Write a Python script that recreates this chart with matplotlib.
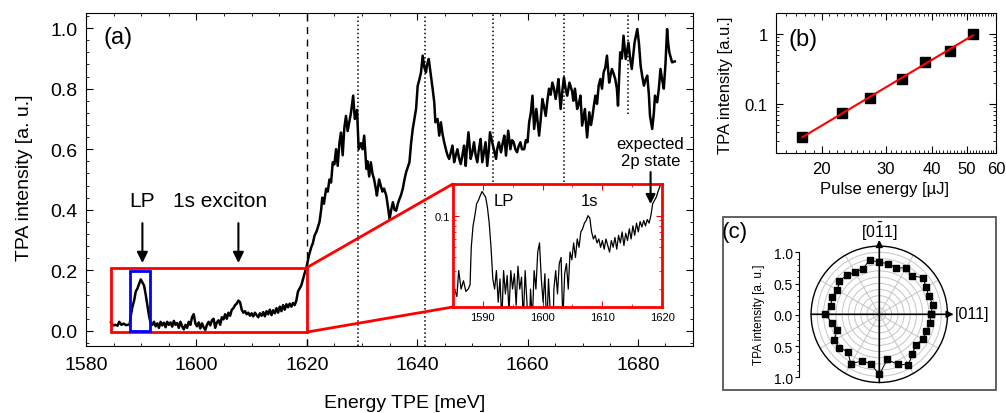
import numpy as np
import matplotlib.pyplot as plt
from matplotlib.patches import Rectangle, ConnectionPatch
from matplotlib.ticker import MultipleLocator, AutoMinorLocator, FixedLocator, NullFormatter, LogLocator

plt.rcParams['font.family'] = ['Liberation Sans', 'DejaVu Sans']
plt.rcParams['mathtext.fontset'] = 'custom'
plt.rcParams['mathtext.rm'] = 'Liberation Sans'
plt.rcParams['mathtext.it'] = 'Liberation Sans:italic'

# ---- (a) TPA spectrum ----
energy_lo = [1584.5, 1584.9, 1585.3, 1585.7, 1586.0, 1586.4, 1586.8, 1587.2, 1587.6, 1587.9,
             1588.1, 1588.4, 1588.7, 1589.0, 1589.3, 1589.6, 1589.9, 1590.2, 1590.5, 1590.8,
             1591.1, 1591.4, 1591.7, 1592.0, 1592.3, 1592.6, 1592.9, 1593.2, 1593.5, 1593.8,
             1594.1, 1594.4, 1594.7, 1595.0, 1595.3, 1595.6, 1595.9, 1596.2, 1596.5, 1596.8,
             1597.1, 1597.4, 1597.7, 1598.0, 1598.3, 1598.6, 1598.9, 1599.2, 1599.5, 1599.8,
             1600.1, 1600.4, 1600.7, 1601.0, 1601.3, 1601.6, 1601.9, 1602.2, 1602.5, 1602.8,
             1603.1, 1603.4, 1603.7, 1604.0, 1604.3, 1604.6, 1604.9, 1605.2, 1605.5, 1605.8,
             1606.1, 1606.4, 1606.7, 1607.0, 1607.3, 1607.6, 1607.9, 1608.2, 1608.5, 1608.8,
             1609.1, 1609.4, 1609.7, 1610.0, 1610.3, 1610.6, 1610.9, 1611.2, 1611.5, 1611.8,
             1612.1, 1612.4, 1612.7, 1613.0, 1613.3, 1613.6, 1613.9, 1614.2, 1614.5, 1614.8,
             1615.1, 1615.4, 1615.7, 1616.0, 1616.3, 1616.6, 1616.9, 1617.2, 1617.5, 1617.8,
             1618.1, 1618.4, 1618.7, 1619.0, 1619.3, 1619.6, 1620.0]
tpa_lo = [0.028, 0.018, 0.020, 0.017, 0.030, 0.020, 0.024, 0.019, 0.020, 0.022,
          0.050, 0.080, 0.100, 0.130, 0.140, 0.155, 0.170, 0.160, 0.150, 0.120,
          0.085, 0.050, 0.025, 0.020, 0.030, 0.015, 0.025, 0.010, 0.030, 0.018,
          0.027, 0.012, 0.030, 0.020, 0.028, 0.014, 0.033, 0.020, 0.026, 0.010,
          0.030, 0.015, 0.005, 0.020, 0.010, 0.030, 0.020, 0.045, 0.055, 0.025,
          0.015, 0.028, 0.008, 0.025, 0.012, 0.003, 0.020, 0.030, 0.018, 0.035,
          0.040, 0.010, 0.028, 0.035, 0.020, 0.045, 0.038, 0.055, 0.040, 0.060,
          0.050, 0.070, 0.075, 0.085, 0.090, 0.100, 0.095, 0.070, 0.060, 0.065,
          0.055, 0.060, 0.050, 0.058, 0.048, 0.060, 0.052, 0.045, 0.058, 0.050,
          0.062, 0.048, 0.065, 0.055, 0.070, 0.052, 0.068, 0.058, 0.075, 0.060,
          0.080, 0.065, 0.085, 0.070, 0.088, 0.078, 0.090, 0.080, 0.092, 0.085,
          0.100, 0.130, 0.140, 0.150, 0.170, 0.190, 0.215]

energy_hi = [1620.4, 1620.8, 1621.1, 1621.4, 1621.8, 1622.3, 1622.6, 1622.8, 1623.1, 1623.5,
             1623.8, 1624.1, 1624.4, 1624.7, 1625.0, 1625.3, 1625.6, 1625.9, 1626.2, 1626.5,
             1626.8, 1627.1, 1627.4, 1627.7, 1628.0, 1628.4, 1628.7, 1629.1, 1629.4, 1629.8,
             1630.1, 1630.4, 1630.8, 1631.0, 1631.3, 1631.6, 1631.9, 1632.2, 1632.5, 1632.7,
             1633.1, 1633.4, 1633.7, 1634.0, 1634.4, 1634.7, 1635.0, 1635.3, 1635.6, 1635.9,
             1636.2, 1636.5, 1636.8, 1637.1, 1637.4, 1637.7, 1638.0, 1638.3, 1638.6, 1638.9,
             1639.2, 1639.5, 1639.8, 1640.1, 1640.4, 1640.7, 1641.0, 1641.3, 1641.6, 1641.8,
             1642.1, 1642.5, 1642.8, 1643.1, 1643.3, 1643.7, 1644.0, 1644.3, 1644.6, 1644.9,
             1645.2, 1645.5, 1645.8, 1646.1, 1646.4, 1646.7, 1647.0, 1647.3, 1647.6, 1647.9,
             1648.2, 1648.5, 1648.8, 1649.0, 1649.3, 1649.7, 1650.0, 1650.3, 1650.6, 1650.9,
             1651.2, 1651.5, 1651.8, 1652.1, 1652.4, 1652.7, 1653.0, 1653.2, 1653.6, 1653.9,
             1654.3, 1654.5, 1654.8, 1655.2, 1655.5, 1655.8, 1656.1, 1656.5, 1656.9, 1657.2,
             1657.5, 1657.8, 1658.1, 1658.4, 1658.7, 1659.0, 1659.4, 1659.7, 1660.0, 1660.3,
             1660.6, 1660.9, 1661.2, 1661.6, 1662.1, 1662.4, 1662.7, 1663.0, 1663.3, 1663.6,
             1663.9, 1664.2, 1664.5, 1664.8, 1665.1, 1665.4, 1665.6, 1666.0, 1666.3, 1666.6,
             1666.9, 1667.2, 1667.6, 1668.1, 1668.3, 1668.6, 1669.0, 1669.3, 1669.6, 1669.9,
             1670.1, 1670.4, 1670.8, 1671.2, 1671.5, 1671.7, 1672.0, 1672.3, 1672.6, 1672.9,
             1673.2, 1673.5, 1673.8, 1674.1, 1674.4, 1674.8, 1675.0, 1675.3, 1675.6, 1675.9,
             1676.2, 1676.4, 1676.8, 1677.1, 1677.4, 1677.8, 1678.0, 1678.3, 1678.6, 1678.9,
             1679.1, 1679.4, 1679.9, 1680.2, 1680.5, 1680.8, 1681.1, 1681.4, 1681.7, 1682.0,
             1682.2, 1682.6, 1682.9, 1683.1, 1683.5, 1683.8, 1684.1, 1684.4, 1684.7, 1685.0,
             1685.3, 1685.5, 1685.7, 1686.0, 1686.2, 1686.7]
tpa_hi = [0.250, 0.276, 0.290, 0.315, 0.330, 0.360, 0.400, 0.440, 0.420, 0.470,
          0.460, 0.500, 0.490, 0.557, 0.550, 0.600, 0.545, 0.620, 0.655, 0.580,
          0.670, 0.710, 0.660, 0.690, 0.720, 0.777, 0.700, 0.730, 0.600, 0.620,
          0.600, 0.645, 0.535, 0.560, 0.510, 0.557, 0.520, 0.500, 0.470, 0.447,
          0.500, 0.480, 0.460, 0.470, 0.447, 0.410, 0.370, 0.400, 0.425, 0.400,
          0.397, 0.420, 0.436, 0.450, 0.470, 0.500, 0.524, 0.540, 0.557, 0.620,
          0.667, 0.700, 0.733, 0.810, 0.830, 0.854, 0.909, 0.870, 0.854, 0.880,
          0.898, 0.843, 0.800, 0.755, 0.689, 0.700, 0.645, 0.689, 0.650, 0.623,
          0.600, 0.580, 0.568, 0.590, 0.612, 0.557, 0.580, 0.600, 0.570, 0.551,
          0.580, 0.612, 0.545, 0.600, 0.656, 0.568, 0.590, 0.623, 0.580, 0.557,
          0.600, 0.634, 0.557, 0.590, 0.623, 0.545, 0.600, 0.656, 0.623, 0.600,
          0.568, 0.600, 0.623, 0.590, 0.620, 0.645, 0.579, 0.661, 0.600, 0.630,
          0.623, 0.600, 0.590, 0.610, 0.623, 0.600, 0.600, 0.630, 0.623, 0.689,
          0.720, 0.777, 0.667, 0.733, 0.645, 0.700, 0.766, 0.740, 0.710, 0.760,
          0.800, 0.780, 0.820, 0.800, 0.766, 0.800, 0.832, 0.733, 0.790, 0.837,
          0.800, 0.777, 0.820, 0.790, 0.760, 0.800, 0.733, 0.750, 0.777, 0.678,
          0.700, 0.733, 0.639, 0.722, 0.680, 0.700, 0.740, 0.777, 0.750, 0.810,
          0.832, 0.800, 0.854, 0.870, 0.909, 0.820, 0.840, 0.865, 0.850, 0.832,
          0.800, 0.744, 0.920, 0.900, 0.975, 0.898, 0.920, 0.952, 0.900, 0.865,
          0.900, 0.952, 0.997, 0.950, 0.876, 0.840, 0.810, 0.830, 0.843, 0.780,
          0.710, 0.667, 0.720, 0.777, 0.755, 0.800, 0.865, 0.830, 0.800, 0.880,
          0.997, 0.950, 0.920, 0.900, 0.887, 0.890]

energy = np.array(energy_lo + energy_hi)
tpa = np.array(tpa_lo + tpa_hi)

dashed_line = 1620.0
dotted_full = [1629.3, 1641.5]
dotted_upper = [1653.8, 1666.6]
dotted_short = 1678.2

# ---- (b) power dependence ----
pulse_energy = [17.7, 22.7, 27.1, 33.1, 38.3, 44.8, 51.9]
tpa_power = [0.034, 0.074, 0.123, 0.231, 0.40, 0.567, 1.0]

# ---- (c) polarisation dependence, 10 deg steps ----
angle_deg = np.arange(0, 360, 10)
tpa_polar = [0.83, 0.88, 0.85, 0.87, 0.92, 0.81, 0.86, 0.80, 0.83, 0.84, 0.89, 0.78,
             0.78, 0.82, 0.84, 0.78, 0.81, 0.79, 0.87, 0.78, 0.72, 0.84, 0.84, 0.79,
             0.92, 0.80, 0.81, 0.97, 0.74, 0.86, 0.94, 0.83, 0.77, 0.81, 0.81, 0.83]

W, H = 1006, 414
fig = plt.figure(figsize=(W / 100, H / 100), dpi=100)

# ================= (a) =================
ax = fig.add_axes([0.0856, 0.1618, 0.6033, 0.8044])
ax.plot(energy, tpa, color='k', lw=1.8, zorder=3)
ax.set_xlim(1580, 1690)
ax.set_ylim(-0.05, 1.05)
ax.xaxis.set_major_locator(MultipleLocator(20))
ax.xaxis.set_minor_locator(MultipleLocator(5))
ax.yaxis.set_major_locator(MultipleLocator(0.2))
ax.yaxis.set_minor_locator(AutoMinorLocator(5))
ax.yaxis.set_major_formatter(lambda v, p: f'{v:.1f}')
ax.tick_params(which='both', direction='in', top=True, right=True, labelsize=14)
ax.tick_params(which='major', length=5)
ax.tick_params(which='minor', length=2.5)
ax.tick_params(axis='x', pad=7)
ax.tick_params(axis='y', pad=6)
ax.set_xlabel('Energy TPE [meV]', fontsize=14)
ax.set_ylabel('TPA intensity [a. u.]', fontsize=14)
ax.xaxis.set_label_coords(0.525, -0.145)
ax.yaxis.set_label_coords(-0.0875, 0.507)

ax.axvline(dashed_line, color='k', ls=(0, (5, 4)), lw=1, zorder=1)
for xv in dotted_full:
    ax.axvline(xv, color='k', ls=':', lw=1.1, zorder=1)
for xv in dotted_upper:
    ax.vlines(xv, 0.48, 1.05, color='k', ls=':', lw=1.1, zorder=1)
ax.vlines(dotted_short, 0.716, 1.05, color='k', ls=':', lw=1.1, zorder=1)

ax.add_patch(Rectangle((1584.6, -0.004), 1620 - 1584.6, 0.213, fill=False,
                       ec='red', lw=2, zorder=4))
ax.add_patch(Rectangle((1588.0, 0.0), 3.6, 0.199, fill=False, ec='blue', lw=2, zorder=5))

arrow_kw = dict(arrowstyle='-|>', color='k', lw=1.5, mutation_scale=16)
ax.annotate('', xy=(1590.2, 0.215), xytext=(1590.2, 0.365), arrowprops=arrow_kw)
ax.annotate('', xy=(1607.6, 0.215), xytext=(1607.6, 0.365), arrowprops=arrow_kw)
ax.text(1590.2, 0.43, 'LP', fontsize=15, ha='center', va='center')
ax.text(1604.3, 0.43, '1s exciton', fontsize=15, ha='center', va='center')
ax.text(0.0526, 0.928, '(a)', transform=ax.transAxes, fontsize=17, ha='center', va='center')

# inset
axin = fig.add_axes([0.45, 0.256, 0.2083, 0.297])
axin.plot(energy, tpa, color='k', lw=0.9)
axin.set_yscale('log')
axin.set_xlim(1585, 1620)
axin.set_ylim(0.0135, 0.2)
axin.xaxis.set_major_locator(MultipleLocator(10))
axin.xaxis.set_minor_locator(MultipleLocator(5))
axin.yaxis.set_major_locator(FixedLocator([0.1]))
axin.yaxis.set_major_formatter(lambda v, p: '0.1')
axin.yaxis.set_minor_locator(LogLocator(subs=np.arange(2, 10)))
axin.yaxis.set_minor_formatter(NullFormatter())
for s in axin.spines.values():
    s.set_color('red')
    s.set_linewidth(2)
axin.tick_params(which='both', direction='in', colors='red', labelcolor='black',
                 top=True, right=True, labelsize=8)
axin.tick_params(which='major', length=4)
axin.tick_params(which='minor', length=2.5)
axin.tick_params(axis='y', pad=2)
axin.text(1593.6, 0.141, 'LP', fontsize=12, ha='center', va='center')
axin.text(1607.8, 0.139, '1s', fontsize=12, ha='center', va='center')
axin.annotate('expected\n2p state', xy=(1618.05, 0.129), xytext=(1618.05, 0.285),
              ha='center', va='bottom', fontsize=12, annotation_clip=False,
              arrowprops=dict(arrowstyle='-|>', color='k', lw=1.5, mutation_scale=14,
                              shrinkA=1, shrinkB=0))

for yv, yf in [(0.209, 1), (-0.004, 0)]:
    cp = ConnectionPatch(xyA=(1620, yv), coordsA=ax.transData, xyB=(0, yf),
                         coordsB=axin.transAxes, color='red', lw=2)
    fig.add_artist(cp)

# ================= (b) =================
axb = fig.add_axes([0.7714, 0.628, 0.2187, 0.338])
axb.set_xscale('log')
axb.set_yscale('log')
axb.plot(pulse_energy, tpa_power, 's', color='k', ms=7.5, zorder=3)
fit = np.polyfit(np.log10(pulse_energy), np.log10(tpa_power), 1)
xf = np.array([pulse_energy[0], pulse_energy[-1]])
axb.plot(xf, 10 ** np.polyval(fit, np.log10(xf)), color='red', lw=1.5, zorder=4)
axb.set_xlim(15, 60)
axb.set_ylim(0.02, 2)
axb.xaxis.set_major_locator(FixedLocator([20, 30, 40, 50, 60]))
axb.xaxis.set_major_formatter(lambda v, p: f'{v:.0f}')
axb.xaxis.set_minor_locator(FixedLocator(np.arange(15, 61, 1)))
axb.xaxis.set_minor_formatter(NullFormatter())
axb.yaxis.set_major_locator(FixedLocator([0.1, 1]))
axb.yaxis.set_major_formatter(lambda v, p: '0.1' if v < 0.5 else '1')
axb.yaxis.set_minor_locator(LogLocator(subs=np.arange(2, 10)))
axb.yaxis.set_minor_formatter(NullFormatter())
axb.tick_params(which='both', direction='in', top=True, right=True, labelsize=12)
axb.tick_params(which='major', length=5, pad=6)
axb.tick_params(which='minor', length=2.5)
axb.set_xlabel('Pulse energy [\u00b5J]', fontsize=12)
axb.set_ylabel('TPA intensity [a.u.]', fontsize=12)
axb.xaxis.set_label_coords(0.495, -0.2)
axb.yaxis.set_label_coords(-0.195, 0.493)
axb.text(0.124, 0.814, '(b)', transform=axb.transAxes, fontsize=17, ha='center', va='center')

# ================= (c) =================
fig.add_artist(Rectangle((0.7187, 0.0556), 0.2714, 0.418, transform=fig.transFigure,
                         fill=False, ec='#555555', lw=1.3))
fig.text(735 / W, 1 - 233 / H, '(c)', fontsize=16, ha='center', va='center')

cx, cy, rpx = 879.3, 315.3, 68.2
axc = fig.add_axes([(cx - rpx) / W, 1 - (cy + rpx) / H, 2 * rpx / W, 2 * rpx / H],
                   projection='polar')
axc.set_rlim(0, 1.1)
axc.set_rticks(np.arange(0.1, 1.05, 0.1))
axc.set_yticklabels([])
axc.set_thetagrids(np.arange(0, 360, 30), labels=[])
axc.grid(color='#c4c4c4', lw=0.7)
axc.spines['polar'].set_color('k')
axc.spines['polar'].set_linewidth(1)
theta = np.deg2rad(np.append(angle_deg, angle_deg[0]))
rr = np.append(tpa_polar, tpa_polar[0])
axc.plot(theta, rr, color='k', lw=0.7, marker='s', ms=4, zorder=4, clip_on=False)
ax_kw = dict(arrowstyle='-|>', color='k', lw=1.2, mutation_scale=10, shrinkA=0, shrinkB=0)
axc.annotate('', xy=(0, 1.2), xytext=(np.pi, 1.1), arrowprops=ax_kw, annotation_clip=False)
axc.annotate('', xy=(np.pi / 2, 1.2), xytext=(1.5 * np.pi, 1.1), arrowprops=ax_kw,
             annotation_clip=False)
fig.text(cx / W, 1 - 231.7 / H, r'[0$\bar{1}$1]', fontsize=11.5, ha='center', va='center')
fig.text(955 / W, 1 - 315 / H, '[011]', fontsize=11.5, ha='left', va='center')

axs = fig.add_axes([799 / W, 1 - 378.3 / H, 0.0005, 125 / H])
axs.set_facecolor('none')
for side in ['top', 'right', 'bottom']:
    axs.spines[side].set_visible(False)
axs.xaxis.set_visible(False)
axs.set_ylim(-1, 1)
axs.yaxis.set_major_locator(FixedLocator([-1, -0.5, 0, 0.5, 1]))
axs.yaxis.set_major_formatter(lambda v, p: f'{abs(v):.1f}')
axs.yaxis.set_minor_locator(MultipleLocator(0.1))
axs.tick_params(which='both', direction='out', labelsize=10, pad=1.5)
axs.tick_params(which='major', length=3)
axs.tick_params(which='minor', length=1.5)
fig.text(759 / W, 1 - 315 / H, 'TPA intensity [a. u.]', fontsize=8.5, rotation=90,
         ha='center', va='center')

fig.savefig('out.png', dpi=100)
